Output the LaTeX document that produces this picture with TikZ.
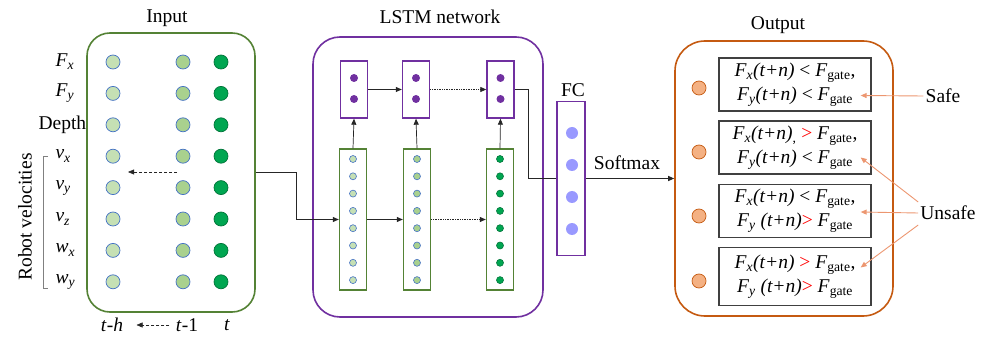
\documentclass[tikz,border=0pt]{standalone}
\usepackage{fontspec}
\setmainfont{Liberation Serif}
\usetikzlibrary{positioning, arrows.meta, calc}

\definecolor{ingreen}{HTML}{548235}
\definecolor{lstmpurple}{HTML}{7030A0}
\definecolor{outorange}{HTML}{C55A11}
\definecolor{dotblue}{HTML}{4472C4}
\definecolor{lightgreen}{HTML}{C5E0B4}
\definecolor{midgreen}{HTML}{A9D18E}
\definecolor{darkgreen}{HTML}{00A651}
\definecolor{fcdot}{HTML}{9999FF}
\definecolor{peach}{HTML}{F4B183}
\definecolor{salmon}{HTML}{EC9670}

\newcommand{\fsub}[1]{\textit{F}\textsubscript{\textit{#1}}}
\newcommand{\fgate}{\textit{F}\textsubscript{gate}}
\newcommand{\tpn}{\textit{(t+n)}}
\newcommand{\redgt}{\textcolor{red}{>}}

\begin{document}
\begin{tikzpicture}[
    x=1pt, y=-1pt,
    font=\fontsize{19.5}{24}\selectfont,
    group/.style={rectangle, draw=#1, line width=1.6pt, inner sep=0pt},
    idot/.style={circle, draw=dotblue, fill=#1, line width=0.7pt,
        minimum size=14pt, inner sep=0pt},
    sdot/.style={circle, draw=dotblue, fill=#1, line width=0.6pt,
        minimum size=7pt, inner sep=0pt},
    cell/.style={rectangle, draw=#1, line width=1.4pt, minimum width=27pt,
        inner sep=0pt},
    cond/.style={rectangle, draw=black!75, line width=1.3pt, minimum width=152pt,
        minimum height=53pt, align=center, inner sep=0pt},
    link/.style={-{Triangle[length=6pt, width=5pt]}, line width=0.7pt, black!85},
    hint/.style={-{Triangle[length=6pt, width=5pt]}, line width=0.9pt, salmon},
]
\useasboundingbox (0,0) rectangle (982,339);

% ---- Input block ----
\node[group=ingreen, rounded corners=23pt, minimum width=168pt, minimum height=279pt]
    (inbox) at (171,172.5) {};
\node (intitle) at (167,18) {Input};
\foreach \i in {0,...,7} {
    \node[idot=lightgreen] (a\i) at (113,{62+31.4*\i}) {};
    \node[idot=midgreen]   (b\i) at (183,{62+31.4*\i}) {};
    \node[idot=darkgreen, draw=darkgreen!70!black] (c\i) at (221,{62+31.4*\i}) {};
}
\node[anchor=west] (lfx) at (52,62)  {\fsub{x}};
\node[anchor=west] (lfy) at (52,93)  {\fsub{y}};
\node[anchor=west] (ldp) at (35,125) {Depth};
\node[anchor=west] (lvx) at (52,156) {\textit{v}\textsubscript{\textit{x}}};
\node[anchor=west] (lvy) at (52,188) {\textit{v}\textsubscript{\textit{y}}};
\node[anchor=west] (lvz) at (52,219) {\textit{v}\textsubscript{\textit{z}}};
\node[anchor=west] (lwx) at (52,250) {\textit{w}\textsubscript{\textit{x}}};
\node[anchor=west] (lwy) at (52,282) {\textit{w}\textsubscript{\textit{y}}};
\draw[gray, line width=0.7pt] (48,156) -- (43,156) -- (43,288) -- (48,288);
\node[rotate=90] (robot) at (25,217) {Robot velocities};

\coordinate (back1) at (177,172);
\coordinate (back2) at (128,172);
\draw[link, densely dashed, line width=0.5pt] (back1) -- (back2);

\node (th) at (112,325) {\textit{t}-\textit{h}};
\node (t1) at (187,325) {\textit{t}-1};
\node (tt) at (227,325) {\textit{t}};
\draw[link, densely dashed, line width=0.5pt, shorten <=3pt, shorten >=10pt] (t1.west) -- (th.east);

% ---- LSTM block ----
\node[group=lstmpurple, rounded corners=27pt, minimum width=230pt, minimum height=280pt]
    (lstm) at (428,177) {};
\node (lstmtitle) at (440,17) {LSTM network};

\node[cell=ingreen, minimum height=141pt] (g1) at (353,219.5) {};
\node[cell=ingreen, minimum height=141pt] (g2) at (417,219.5) {};
\node[cell=ingreen, minimum height=141pt] (g3) at (500,219.5) {};
\foreach \i in {0,...,7} {
    \node[sdot=lightgreen] (s1\i) at (353,{159+17.3*\i}) {};
    \node[sdot=midgreen]   (s2\i) at (417,{159+17.3*\i}) {};
    \node[sdot=darkgreen, draw=darkgreen!70!black] (s3\i) at (500,{159+17.3*\i}) {};
}

\node[cell=lstmpurple, minimum height=57pt] (p1) at (354,89.5) {};
\node[cell=lstmpurple, minimum height=57pt] (p2) at (416,89.5) {};
\node[cell=lstmpurple, minimum height=57pt] (p3) at (500.5,89.5) {};
\foreach \p in {p1,p2,p3} {
    \fill[lstmpurple] ($(\p)+(0,-11.5)$) circle (4pt);
    \fill[lstmpurple] ($(\p)+(0,9.5)$) circle (4pt);
}

\draw[link] (g1.north) -- (p1.south);
\draw[link] (g2.north) -- (p2.south);
\draw[link] (g3.north) -- (p3.south);
\draw[link] (p1.east) -- (p2.west);
\draw[link, densely dotted] (p2.east) -- (p3.west);
\draw[link] (g1.east) -- (g2.west);
\draw[link, densely dotted] (g2.east) -- (g3.west);
\draw[link] (inbox.east) -- ++(41,0) |- (g1.west);

% ---- FC layer ----
\node[group=lstmpurple, line width=1.2pt, minimum width=28pt, minimum height=154pt]
    (fc) at (571,178.5) {};
\node (fctitle) at (573,90) {FC};
\foreach \i in {0,...,3}
    \fill[fcdot] (572,{133+32*\i}) circle (6pt);
\draw[line width=0.9pt, black!85] (p3.east) -- ++(14,0) |- (fc.west);

% ---- Output block ----
\node[group=outorange, rounded corners=30pt, minimum width=218pt, minimum height=275pt]
    (outbox) at (784,178.5) {};
\node (outtitle) at (778,25) {Output};
\draw[link, line width=0.9pt] (fc.east) -- (outbox.west);
\node (softmax) at (627,163) {Softmax};

\foreach \i/\y in {1/88, 2/152, 3/216, 4/281}
    \node[circle, draw=outorange, fill=peach, line width=0.7pt, minimum size=14pt,
        inner sep=0pt] (o\i) at (699,\y) {};

\node[cond] (c1) at (795,84.5)
    {\fsub{x}\tpn{} < \fgate,\\ \fsub{y}\tpn{} < \fgate};
\node[cond] (c2) at (795,147.5)
    {\fsub{x}\tpn\textsubscript{,} \redgt{} \fgate,\\ \fsub{y}\tpn{} < \fgate};
\node[cond] (c3) at (795,211)
    {\fsub{x}\tpn{} < \fgate,\\ \fsub{y} \tpn\redgt{} \fgate};
\node[cond, minimum height=58pt] (c4) at (795,276.5)
    {\fsub{x}\tpn{} \redgt{} \fgate,\\ \fsub{y} \tpn\redgt{} \fgate};

% ---- Safe / Unsafe ----
\node[inner sep=2pt] (safe) at (943,96) {Safe};
\node[inner sep=2pt] (unsafe) at (948,213) {Unsafe};
\draw[hint] (safe.west) -- ($(c1.east)+(-11,11)$);
\draw[hint] ($(unsafe.west)+(0,-11)$) -- ($(c2.east)+(-11,10)$);
\draw[hint] (unsafe.west) -- ($(c3.east)+(-11,1)$);
\draw[hint] ($(unsafe.west)+(0,12)$) -- ($(c4.east)+(-11,-9)$);

\end{tikzpicture}
\end{document}
